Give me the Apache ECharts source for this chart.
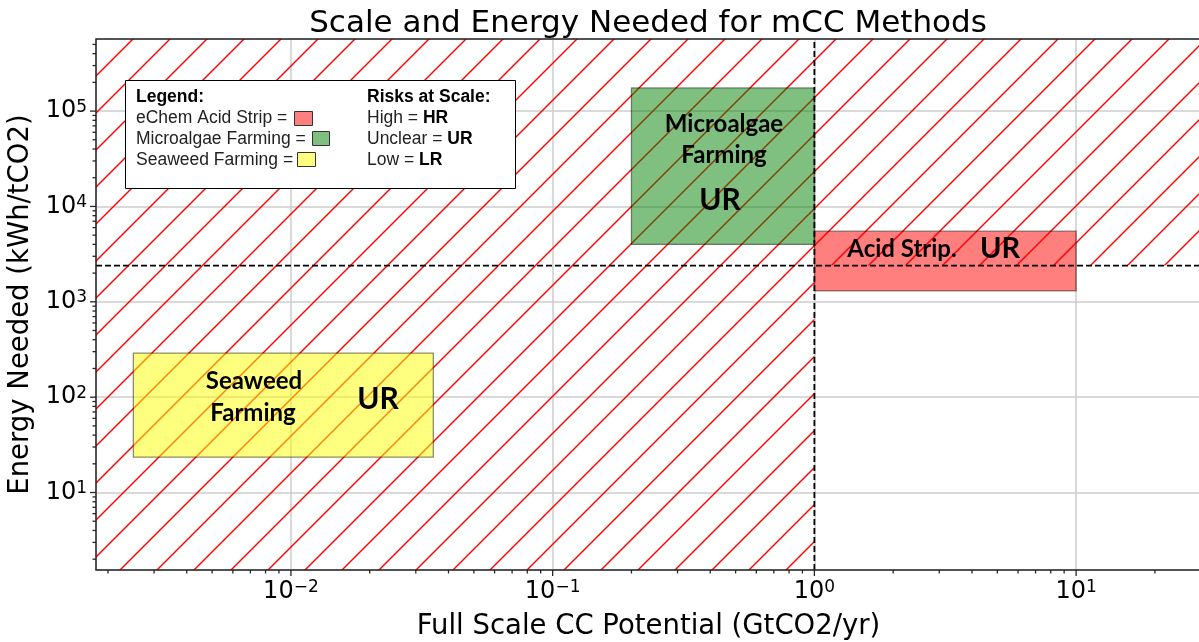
<!DOCTYPE html>
<html>
<head>
<meta charset="utf-8">
<title>Scale and Energy Needed for mCC Methods</title>
<script src="https://cdn.jsdelivr.net/npm/echarts@6/dist/echarts.min.js"></script>
<style>
html, body { margin: 0; padding: 0; background: #fff; }
#chart { width: 1199px; height: 642px; }
</style>
</head>
<body>
<div id="chart"></div>
<script>
// axis limits (log axes)
var xMin = 0.0018, xMax = 30;
var yMin = 1.54, yMax = 5.7e5;

// dashed thresholds, everything outside "big and cheap" is hatched
var scaleThreshold = 1;       // GtCO2/yr
var energyThreshold = 2400;   // kWh/tCO2

// methods, boxes [x0..x1] x [y0..y1]
var methods = ['eChem Acid Strip', 'Microalgae Farming', 'Seaweed Farming'];
var methodX0 = [1, 0.2, 0.0025];
var methodX1 = [10, 1, 0.035];
var methodY0 = [1300, 4000, 23.5];
var methodY1 = [5500, 175000, 290];
var methodRisk = ['UR', 'UR', 'UR'];

// tick values
var xMajorTicks = [0.01, 0.1, 1, 10];
var xMinorTicks = [0.002, 0.003, 0.004, 0.005, 0.006, 0.007, 0.008, 0.009,
                   0.02, 0.03, 0.04, 0.05, 0.06, 0.07, 0.08, 0.09,
                   0.2, 0.3, 0.4, 0.5, 0.6, 0.7, 0.8, 0.9,
                   2, 3, 4, 5, 6, 7, 8, 9, 20];
var yMajorTicks = [10, 100, 1000, 10000, 100000];
var yMinorTicks = [2, 3, 4, 5, 6, 7, 8, 9,
                   20, 30, 40, 50, 60, 70, 80, 90,
                   200, 300, 400, 500, 600, 700, 800, 900,
                   2000, 3000, 4000, 5000, 6000, 7000, 8000, 9000,
                   20000, 30000, 40000, 50000, 60000, 70000, 80000, 90000,
                   200000, 300000, 400000, 500000];

var boxFill = ['rgba(255,0,0,0.5)', 'rgba(0,128,0,0.5)', 'rgba(255,255,0,0.5)'];

// hatch tile  ( "/" lines, red )
var hatch = document.createElement('canvas');
hatch.width = 37; hatch.height = 37;
var hc = hatch.getContext('2d');
hc.strokeStyle = '#ff0000';
hc.lineWidth = 1.4;
[-13, 24, 61, 98].forEach(function (c) {
    hc.beginPath();
    hc.moveTo(c + 3, -3);
    hc.lineTo(-3, c + 3);
    hc.stroke();
});

var supMap = { '-': '\u2212' };
function powLabel(v) {
    var e = String(Math.round(Math.log10(v)));
    var s = e.split('').map(function (ch) { return supMap[ch] || ch; }).join('');
    return '{b|10}{s|' + s + '}';
}
var labelRich = {
    b: { fontSize: 24, fontFamily: 'DejaVu Sans', color: '#000' },
    s: { fontSize: 17, fontFamily: 'DejaVu Sans', color: '#000', verticalAlign: 'top', padding: [0, 0, 8, 0] }
};

function rectItem(x0, x1, y0, y1, api) {
    var a = api.coord([x0, y1]);
    var b = api.coord([x1, y0]);
    return { x: a[0], y: a[1], width: b[0] - a[0], height: b[1] - a[1] };
}

function tickSeries(values, axis, len) {
    return {
        type: 'custom',
        coordinateSystem: 'cartesian2d',
        silent: true,
        clip: false,
        z: 6,
        data: values.map(function (v) { return axis === 'x' ? [v, yMin] : [xMin, v]; }),
        renderItem: function (params, api) {
            var p = api.coord([api.value(0), api.value(1)]);
            var shape = axis === 'x'
                ? { x1: p[0], y1: p[1], x2: p[0], y2: p[1] + len }
                : { x1: p[0] - len, y1: p[1], x2: p[0], y2: p[1] };
            return { type: 'line', shape: shape, style: { stroke: '#262626', lineWidth: 1.3 } };
        }
    };
}

var chart = echarts.init(document.getElementById('chart'), null, { renderer: 'canvas' });

var legendFont = 'Liberation Sans';
var boxFont = 'Lato';

var option = {
    backgroundColor: '#fff',
    animation: false,
    title: {
        text: 'Scale and Energy Needed for mCC Methods',
        left: 643,
        top: 3,
        textAlign: 'center',
        textStyle: { fontFamily: 'DejaVu Sans', fontSize: 31, fontWeight: 'normal', color: '#000' }
    },
    grid: {
        left: 96, right: -2, top: 39, bottom: 72,
        show: true, borderColor: '#262626', borderWidth: 1.5,
        backgroundColor: 'transparent', z: 10,
        outerBoundsMode: 'none', containLabel: false
    },
    xAxis: {
        type: 'log',
        min: xMin, max: xMax,
        name: 'Full Scale CC Potential (GtCO2/yr)',
        nameLocation: 'middle',
        nameGap: 43,
        nameTextStyle: { fontFamily: 'DejaVu Sans', fontSize: 27.5, color: '#000' },
        axisLine: { show: false },
        axisTick: { show: false },
        splitLine: { show: true, lineStyle: { color: '#cccccc', width: 1.5 } },
        axisLabel: {
            margin: 9, showMinLabel: false, showMaxLabel: false,
            formatter: powLabel, rich: labelRich
        }
    },
    yAxis: {
        type: 'log',
        min: yMin, max: yMax,
        name: 'Energy Needed (kWh/tCO2)',
        nameLocation: 'middle',
        nameGap: 44,
        nameTextStyle: { fontFamily: 'DejaVu Sans', fontSize: 27.5, color: '#000' },
        axisLine: { show: false },
        axisTick: { show: false },
        splitLine: { show: true, lineStyle: { color: '#cccccc', width: 1.5 } },
        axisLabel: {
            margin: 9, showMinLabel: false, showMaxLabel: false,
            formatter: powLabel, rich: labelRich
        }
    },
    series: [
        {
            // hatched zone
            type: 'custom',
            coordinateSystem: 'cartesian2d',
            silent: true,
            z: 2,
            encode: { x: [0, 1], y: [2, 3] },
            data: [
                [xMin, scaleThreshold, yMin, yMax],
                [scaleThreshold, xMax, energyThreshold, yMax]
            ],
            renderItem: function (params, api) {
                return {
                    type: 'rect',
                    shape: rectItem(api.value(0), api.value(1), api.value(2), api.value(3), api),
                    style: { fill: { image: hatch, repeat: 'repeat' }, stroke: null }
                };
            }
        },
        {
            // method boxes
            type: 'custom',
            name: 'methods',
            coordinateSystem: 'cartesian2d',
            silent: true,
            z: 3,
            encode: { x: [0, 1], y: [2, 3] },
            data: methods.map(function (m, i) {
                return [methodX0[i], methodX1[i], methodY0[i], methodY1[i], i];
            }),
            renderItem: function (params, api) {
                var i = api.value(4);
                return {
                    type: 'rect',
                    shape: rectItem(api.value(0), api.value(1), api.value(2), api.value(3), api),
                    style: { fill: boxFill[i], stroke: 'rgba(0,0,0,0.45)', lineWidth: 1.3 }
                };
            }
        },
        {
            type: 'line',
            z: 4,
            silent: true,
            symbol: 'none',
            data: [[scaleThreshold, yMin], [scaleThreshold, yMax]],
            lineStyle: { color: '#000', width: 1.8, type: [6, 3] }
        },
        {
            type: 'line',
            z: 4,
            silent: true,
            symbol: 'none',
            data: [[xMin, energyThreshold], [xMax, energyThreshold]],
            lineStyle: { color: '#000', width: 1.8, type: [6, 3] }
        },
        tickSeries(xMajorTicks, 'x', 6),
        tickSeries(xMinorTicks, 'x', 3.5),
        tickSeries(yMajorTicks, 'y', 6),
        tickSeries(yMinorTicks, 'y', 3.5)
    ],
    graphic: [
        // legend box
        { type: 'rect', z: 100, shape: { x: 125.5, y: 80.5, width: 390, height: 108 },
          style: { fill: '#fff', stroke: '#000', lineWidth: 1 } },
        { type: 'text', z: 101, x: 136, y: 97.4,
          style: { text: 'Legend:', fontFamily: legendFont, fontSize: 17.5, fontWeight: 'bold', fill: '#000', verticalAlign: 'middle' } },
        { type: 'text', z: 101, x: 136, y: 118.3,
          style: { text: 'eChem Acid Strip =', fontFamily: legendFont, fontSize: 17.5, fill: '#222', verticalAlign: 'middle' } },
        { type: 'text', z: 101, x: 136, y: 139.2,
          style: { text: 'Microalgae Farming =', fontFamily: legendFont, fontSize: 17.5, fill: '#222', verticalAlign: 'middle' } },
        { type: 'text', z: 101, x: 136, y: 160.1,
          style: { text: 'Seaweed Farming =', fontFamily: legendFont, fontSize: 17.5, fill: '#222', verticalAlign: 'middle' } },
        { type: 'rect', z: 101, shape: { x: 294.5, y: 111.5, width: 18, height: 14 },
          style: { fill: boxFill[0], stroke: '#333', lineWidth: 1 } },
        { type: 'rect', z: 101, shape: { x: 312.5, y: 131.5, width: 17, height: 14 },
          style: { fill: boxFill[1], stroke: '#333', lineWidth: 1 } },
        { type: 'rect', z: 101, shape: { x: 297.5, y: 152.5, width: 18, height: 14 },
          style: { fill: boxFill[2], stroke: '#333', lineWidth: 1 } },
        { type: 'text', z: 101, x: 367, y: 97.4,
          style: { text: 'Risks at Scale:', fontFamily: legendFont, fontSize: 17.5, fontWeight: 'bold', fill: '#000', verticalAlign: 'middle' } },
        { type: 'text', z: 101, x: 367, y: 118.3,
          style: { text: 'High = {b|HR}', fontFamily: legendFont, fontSize: 17.5, fill: '#222', verticalAlign: 'middle',
                   rich: { b: { fontFamily: legendFont, fontSize: 17.5, fontWeight: 'bold', fill: '#000' } } } },
        { type: 'text', z: 101, x: 367, y: 139.2,
          style: { text: 'Unclear = {b|UR}', fontFamily: legendFont, fontSize: 17.5, fill: '#222', verticalAlign: 'middle',
                   rich: { b: { fontFamily: legendFont, fontSize: 17.5, fontWeight: 'bold', fill: '#000' } } } },
        { type: 'text', z: 101, x: 367, y: 160.1,
          style: { text: 'Low = {b|LR}', fontFamily: legendFont, fontSize: 17.5, fill: '#222', verticalAlign: 'middle',
                   rich: { b: { fontFamily: legendFont, fontSize: 17.5, fontWeight: 'bold', fill: '#000' } } } },

        // labels inside the boxes
        { type: 'text', z: 101, x: 254, y: 381.5,
          style: { text: 'Seaweed', fontFamily: boxFont, fontSize: 24, fontWeight: 'bold', fill: '#000', align: 'center', verticalAlign: 'middle' } },
        { type: 'text', z: 101, x: 253, y: 413.5,
          style: { text: 'Farming', fontFamily: boxFont, fontSize: 24, fontWeight: 'bold', fill: '#000', align: 'center', verticalAlign: 'middle' } },
        { type: 'text', z: 101, x: 378, y: 399.1,
          style: { text: methodRisk[2], fontFamily: boxFont, fontSize: 30, fontWeight: 'bold', fill: '#000', align: 'center', verticalAlign: 'middle' } },
        { type: 'text', z: 101, x: 724, y: 124,
          style: { text: 'Microalgae', fontFamily: boxFont, fontSize: 24, fontWeight: 'bold', fill: '#000', align: 'center', verticalAlign: 'middle' } },
        { type: 'text', z: 101, x: 724, y: 155,
          style: { text: 'Farming', fontFamily: boxFont, fontSize: 24, fontWeight: 'bold', fill: '#000', align: 'center', verticalAlign: 'middle' } },
        { type: 'text', z: 101, x: 720, y: 200.1,
          style: { text: methodRisk[1], fontFamily: boxFont, fontSize: 30, fontWeight: 'bold', fill: '#000', align: 'center', verticalAlign: 'middle' } },
        { type: 'text', z: 101, x: 902, y: 249,
          style: { text: 'Acid Strip.', fontFamily: boxFont, fontSize: 24, fontWeight: 'bold', fill: '#000', align: 'center', verticalAlign: 'middle' } },
        { type: 'text', z: 101, x: 1000, y: 248.8,
          style: { text: methodRisk[0], fontFamily: boxFont, fontSize: 29, fontWeight: 'bold', fill: '#000', align: 'center', verticalAlign: 'middle' } }
    ]
};

chart.setOption(option);
</script>
</body>
</html>
